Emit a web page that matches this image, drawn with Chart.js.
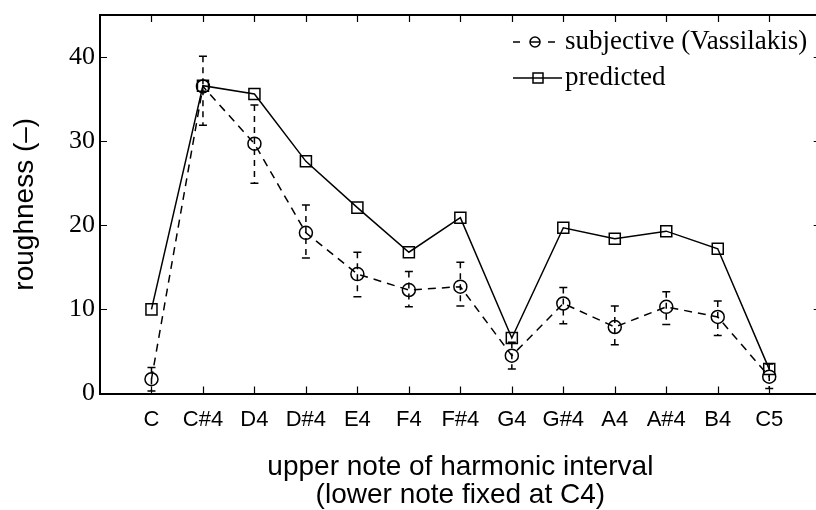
<!DOCTYPE html>
<html>
<head>
<meta charset="utf-8">
<script src="https://cdn.jsdelivr.net/npm/chart.js@4/dist/chart.umd.min.js"></script>
<style>
  html, body { margin: 0; padding: 0; background: #fff; overflow: hidden; }
  #wrap { width: 830px; height: 510px; }
</style>
</head>
<body>
<div id="wrap"><canvas id="c" width="830" height="510"></canvas></div>
<script>
const categories = ['C', 'C#4', 'D4', 'D#4', 'E4', 'F4', 'F#4', 'G4', 'G#4', 'A4', 'A#4', 'B4', 'C5'];
const predicted  = [10.0, 36.6, 35.6, 27.6, 22.1, 16.8, 20.9, 6.6, 19.7, 18.4, 19.3, 17.2, 2.9];
const subjective = [1.7, 36.5, 29.7, 19.1, 14.2, 12.3, 12.7, 4.5, 10.7, 7.9, 10.3, 9.1, 2.0];
const subjHigh   = [3.1, 40.1, 34.3, 22.4, 16.8, 14.5, 15.6, 6.1, 12.6, 10.4, 12.1, 11.0, 3.5];
const subjLow    = [0.3, 31.9, 25.0, 16.1, 11.5, 10.3, 10.4, 2.9, 8.3, 5.8, 8.2, 6.9, 0.6];
const yTicks     = [0, 10, 20, 30, 40];
const legendLabels = ['subjective (Vassilakis)', 'predicted'];

const SANS = "'Liberation Sans', Arial, sans-serif";
const SERIF = "'Liberation Serif', 'Times New Roman', serif";

const toXY = arr => arr.map((v, i) => ({ x: i + 1, y: v }));

const errorBars = {
  id: 'errorBars',
  afterDatasetsDraw(chart) {
    const { ctx, scales: { x, y } } = chart;
    ctx.save();
    ctx.strokeStyle = '#000';
    ctx.lineWidth = 1.5;
    subjective.forEach((v, i) => {
      const px = x.getPixelForValue(i + 1);
      const hi = y.getPixelForValue(subjHigh[i]);
      const lo = y.getPixelForValue(subjLow[i]);
      ctx.setLineDash([6, 5]);
      ctx.beginPath(); ctx.moveTo(px, hi); ctx.lineTo(px, lo); ctx.stroke();
      ctx.setLineDash([]);
      ctx.beginPath();
      ctx.moveTo(px - 4, hi); ctx.lineTo(px + 4, hi);
      ctx.moveTo(px - 4, lo); ctx.lineTo(px + 4, lo);
      ctx.stroke();
    });
    ctx.restore();
  }
};

const frameTicks = {
  id: 'frameTicks',
  afterDraw(chart) {
    const { ctx, chartArea: a, scales: { x, y } } = chart;
    ctx.save();
    ctx.strokeStyle = '#000';
    ctx.lineWidth = 1.2;
    ctx.beginPath();
    categories.forEach((c, i) => {
      const px = Math.round(x.getPixelForValue(i + 1)) + 0.5;
      ctx.moveTo(px, a.bottom); ctx.lineTo(px, a.bottom - 7);
      ctx.moveTo(px, a.top); ctx.lineTo(px, a.top + 7);
    });
    yTicks.forEach(t => {
      const py = Math.round(y.getPixelForValue(t)) + 0.5;
      ctx.moveTo(a.left, py); ctx.lineTo(a.left + 7, py);
      ctx.moveTo(a.right, py); ctx.lineTo(a.right - 7, py);
    });
    ctx.stroke();

    // legend
    const tx = 565, r1 = 42, r2 = 78;
    ctx.lineWidth = 1.5;
    ctx.beginPath();
    ctx.moveTo(513, r1); ctx.lineTo(520, r1);
    ctx.moveTo(530, r1); ctx.lineTo(540, r1);
    ctx.moveTo(548, r1); ctx.lineTo(555, r1);
    ctx.stroke();
    ctx.beginPath(); ctx.arc(535, r1, 5, 0, Math.PI * 2); ctx.stroke();
    ctx.beginPath(); ctx.moveTo(513, r2); ctx.lineTo(562, r2); ctx.stroke();
    ctx.strokeRect(533, r2 - 5, 10, 10);
    ctx.fillStyle = '#000';
    ctx.font = '27px ' + SERIF;
    ctx.textBaseline = 'middle';
    ctx.textAlign = 'left';
    ctx.fillText(legendLabels[0], tx, r1);
    ctx.fillText(legendLabels[1], tx, r2);
    ctx.restore();
  }
};

const noPad = s => { s.paddingTop = 0; s.paddingBottom = 0; s.paddingLeft = 0; s.paddingRight = 0; };

new Chart(document.getElementById('c'), {
  type: 'line',
  data: {
    datasets: [
      {
        label: legendLabels[0],
        data: toXY(subjective),
        borderColor: '#000',
        borderWidth: 1.5,
        borderDash: [8, 6],
        pointStyle: 'circle',
        pointRadius: 6.5,
        pointBorderWidth: 1.5,
        pointBackgroundColor: 'rgba(0,0,0,0)',
        pointBorderColor: '#000',
        tension: 0,
        fill: false
      },
      {
        label: legendLabels[1],
        data: toXY(predicted),
        borderColor: '#000',
        borderWidth: 1.5,
        pointStyle: 'rect',
        pointRadius: 7.8,
        pointBorderWidth: 1.5,
        pointBackgroundColor: 'rgba(0,0,0,0)',
        pointBorderColor: '#000',
        tension: 0,
        fill: false
      }
    ]
  },
  options: {
    responsive: false,
    animation: false,
    layout: { padding: 0 },
    plugins: { legend: { display: false }, tooltip: { enabled: false } },
    scales: {
      x: {
        type: 'linear', position: 'bottom', min: 0, max: 14,
        afterBuildTicks: s => { s.ticks = categories.map((c, i) => ({ value: i + 1 })); },
        afterFit: s => { s.height = 116.5; noPad(s); },
        grid: { display: false, drawTicks: false },
        border: { display: true, color: '#000', width: 2 },
        ticks: {
          autoSkip: false, maxRotation: 0, padding: 13, color: '#000',
          font: { family: SANS, size: 22 },
          callback: v => categories[v - 1] || ''
        },
        title: {
          display: true, color: '#000',
          text: ['upper note of harmonic interval', '(lower note fixed at C4)'],
          font: { family: SANS, size: 28, lineHeight: 28 / 28 },
          padding: { top: 0, bottom: 1 }
        }
      },
      x2: {
        type: 'linear', position: 'top', min: 0, max: 14,
        afterFit: s => { s.height = 15; noPad(s); },
        grid: { display: false, drawTicks: false },
        border: { display: true, color: '#000', width: 2 },
        ticks: { display: false }
      },
      y: {
        type: 'linear', position: 'left', min: 0, max: 45,
        afterBuildTicks: s => { s.ticks = yTicks.map(v => ({ value: v })); },
        afterFit: s => { s.width = 100; noPad(s); },
        grid: { display: false, drawTicks: false },
        border: { display: true, color: '#000', width: 2 },
        ticks: { padding: 5, color: '#000', font: { family: SERIF, size: 26 } },
        title: {
          display: true, color: '#000', text: 'roughness (–)',
          font: { family: SANS, size: 28 },
          padding: { top: 8, bottom: 0 }
        }
      },
      y2: {
        type: 'linear', position: 'right', min: 0, max: 45,
        afterFit: s => { s.width = 6; noPad(s); },
        grid: { display: false, drawTicks: false },
        border: { display: true, color: '#000', width: 2 },
        ticks: { display: false }
      }
    }
  },
  plugins: [errorBars, frameTicks]
});
</script>
</body>
</html>
